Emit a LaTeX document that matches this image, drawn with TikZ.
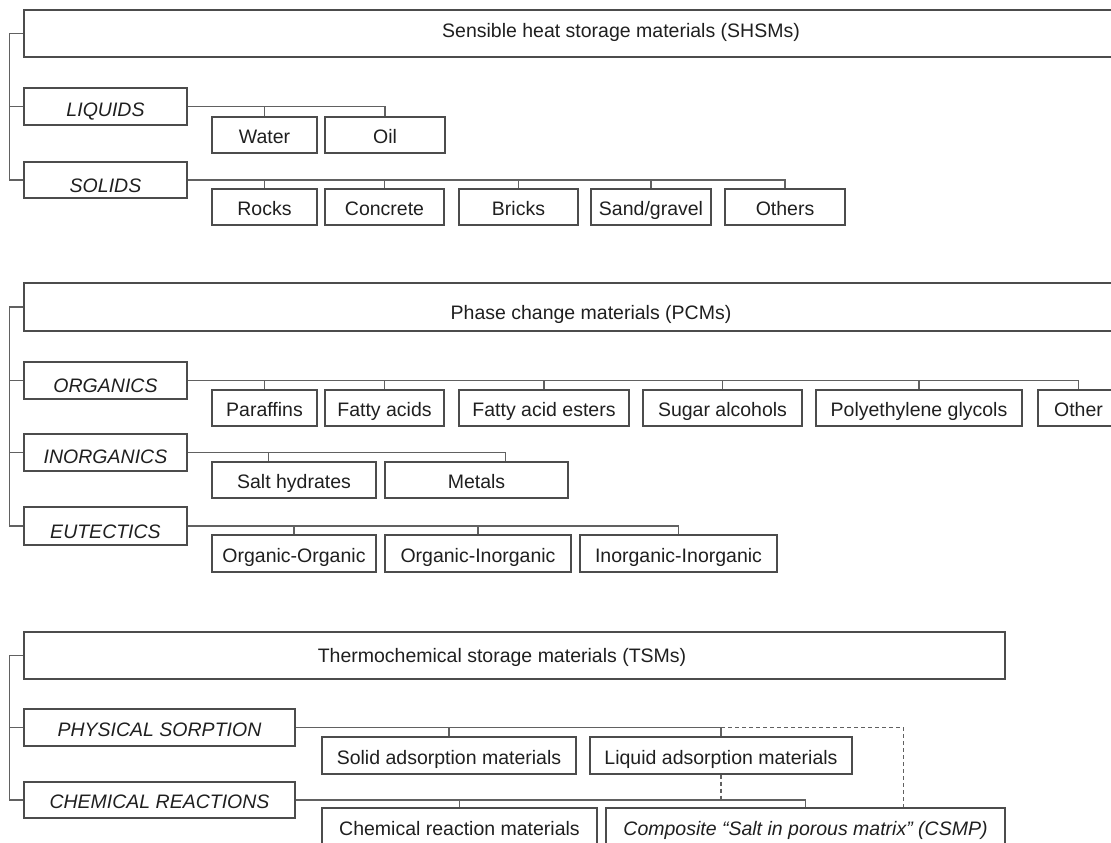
\documentclass[tikz,border=0pt]{standalone}
\usepackage{fontspec}
\setmainfont{Liberation Sans}
\newcommand\bxnode[7][]{\node[#1,minimum width={(#5-#3)*1pt},minimum height={(#6-#4)*1pt}] (#2) at ({(#3+#5)/2},{(#4+#6)/2}) {#7};}
\tikzset{
  ln/.style={draw=black!62, line width=1.35pt},
  dsh/.style={draw=black!62, line width=1.3pt, dash pattern=on 4pt off 3pt},
  bxs/.style={draw=black!70, line width=1.35pt, rectangle, inner sep=0pt,
    font=\fontsize{19.5}{22}\selectfont, text=black!88},
  leafbox/.style={bxs, text height=17pt, text depth=0pt},
  catbox/.style={bxs, font=\fontsize{19.5}{22}\selectfont\itshape, text height=#1, text depth=0pt},
  titlebox/.style={bxs, text height=#1, text depth=0pt},
}
\begin{document}
\begin{tikzpicture}[x=1pt,y=-1pt]
\useasboundingbox (0,0) rectangle (1111,843);
\clip (0,0) rectangle (1111,843);
% ---------- Section 1 ----------
\bxnode[titlebox=8pt]{shsm}{24}{10}{1218}{57}{Sensible heat storage materials (SHSMs)}
\bxnode[catbox=20pt]{liquids}{24}{88}{187}{125}{LIQUIDS}
\bxnode[catbox=24pt]{solids}{24}{162}{187}{198}{SOLIDS}
\bxnode[leafbox]{water}{212}{117}{317}{153}{Water}
\bxnode[leafbox]{oil}{325}{117}{445}{153}{Oil}
\bxnode[leafbox]{rocks}{212}{189}{317}{225}{Rocks}
\bxnode[leafbox]{concrete}{325}{189}{444}{225}{Concrete}
\bxnode[leafbox]{bricks}{459}{189}{578}{225}{Bricks}
\bxnode[leafbox]{sand}{591}{189}{711}{225}{Sand/gravel}
\bxnode[leafbox]{others}{725}{189}{845}{225}{Others}
\draw[ln] (shsm.west) -- ++(-14,0) |- (solids.west);
\draw[ln] (liquids.west) -- ++(-14,0);
\draw[ln] (liquids.east) -| (oil.north);
\draw[ln] (water.north) -- (water.north |- liquids.east);
\draw[ln] (solids.east) -| (others.north);
\foreach \n in {rocks,concrete,bricks,sand}
  \draw[ln] (\n.north) -- (\n.north |- solids.east);
% ---------- Section 2 ----------
\bxnode[titlebox=24pt]{pcm}{24}{283}{1158}{331}{Phase change materials (PCMs)}
\bxnode[catbox=24pt]{org}{24}{362}{187}{399}{ORGANICS}
\bxnode[catbox=22pt]{inorg}{24}{434}{187}{471}{INORGANICS}
\bxnode[catbox=24pt]{eut}{24}{507}{187}{545}{EUTECTICS}
\bxnode[leafbox]{paraffins}{212}{390}{317}{426}{Paraffins}
\bxnode[leafbox]{fatty}{325}{390}{444}{426}{Fatty acids}
\bxnode[leafbox]{esters}{459}{390}{629}{426}{Fatty acid esters}
\bxnode[leafbox]{sugar}{643}{390}{802}{426}{Sugar alcohols}
\bxnode[leafbox]{peg}{816}{390}{1022}{426}{Polyethylene glycols}
\bxnode[leafbox]{other}{1038}{390}{1119}{426}{Other}
\bxnode[leafbox]{salt}{212}{462}{376}{498}{Salt hydrates}
\bxnode[leafbox]{metals}{385}{462}{568}{498}{Metals}
\bxnode[leafbox]{oo}{212}{535}{376}{572}{Organic-Organic}
\bxnode[leafbox]{oi}{385}{535}{571}{572}{Organic-Inorganic}
\bxnode[leafbox]{ii}{580}{535}{777}{572}{Inorganic-Inorganic}
\draw[ln] (pcm.west) -- ++(-14,0) |- (eut.west);
\draw[ln] (org.west) -- ++(-14,0);
\draw[ln] (inorg.west) -- ++(-14,0);
\draw[ln] (org.east) -| (other.north);
\foreach \n in {paraffins,fatty,esters,sugar,peg}
  \draw[ln] (\n.north) -- (\n.north |- org.east);
\coordinate (saltdrop) at ([xshift=57pt]salt.north west);
\coordinate (metdrop) at ([xshift=121pt]metals.north west);
\draw[ln] (inorg.east) -| (metdrop);
\draw[ln] (saltdrop) -- (saltdrop |- inorg.east);
\draw[ln] (eut.east) -| (ii.north);
\foreach \n in {oo,oi}
  \draw[ln] (\n.north) -- (\n.north |- eut.east);
% ---------- Section 3 ----------
\bxnode[titlebox=14pt]{tsm}{24}{632}{1005}{679}{\hspace*{-25pt}Thermochemical storage materials (TSMs)}
\bxnode[catbox=17pt]{phys}{24}{709}{295}{746}{PHYSICAL SORPTION}
\bxnode[catbox=17pt]{chem}{24}{782}{295}{818}{CHEMICAL REACTIONS}
\bxnode[leafbox]{solid}{322}{737}{576}{774}{Solid adsorption materials}
\bxnode[leafbox]{liq}{590}{737}{852}{774}{Liquid adsorption materials}
\bxnode[leafbox]{crm}{322}{808}{597}{845}{Chemical reaction materials}
\bxnode[leafbox,font=\fontsize{19.5}{22}\selectfont\itshape]{comp}{606}{808}{1005}{845}{Composite “Salt in porous matrix” (CSMP)}
\draw[ln] (tsm.west) -- ++(-14,0) |- (chem.west);
\draw[ln] (phys.west) -- ++(-14,0);
\draw[ln] (phys.east) -| (liq.north);
\draw[ln] (solid.north) -- (solid.north |- phys.east);
\coordinate (compdash) at ([xshift=298pt]comp.north west);
\draw[dsh] (liq.north |- phys.east) -| (compdash);
\draw[dsh] (liq.south) -- (liq.south |- chem.east);
\draw[ln] (chem.east) -| (comp.north);
\draw[ln] (crm.north) -- (crm.north |- chem.east);
\end{tikzpicture}
\end{document}
